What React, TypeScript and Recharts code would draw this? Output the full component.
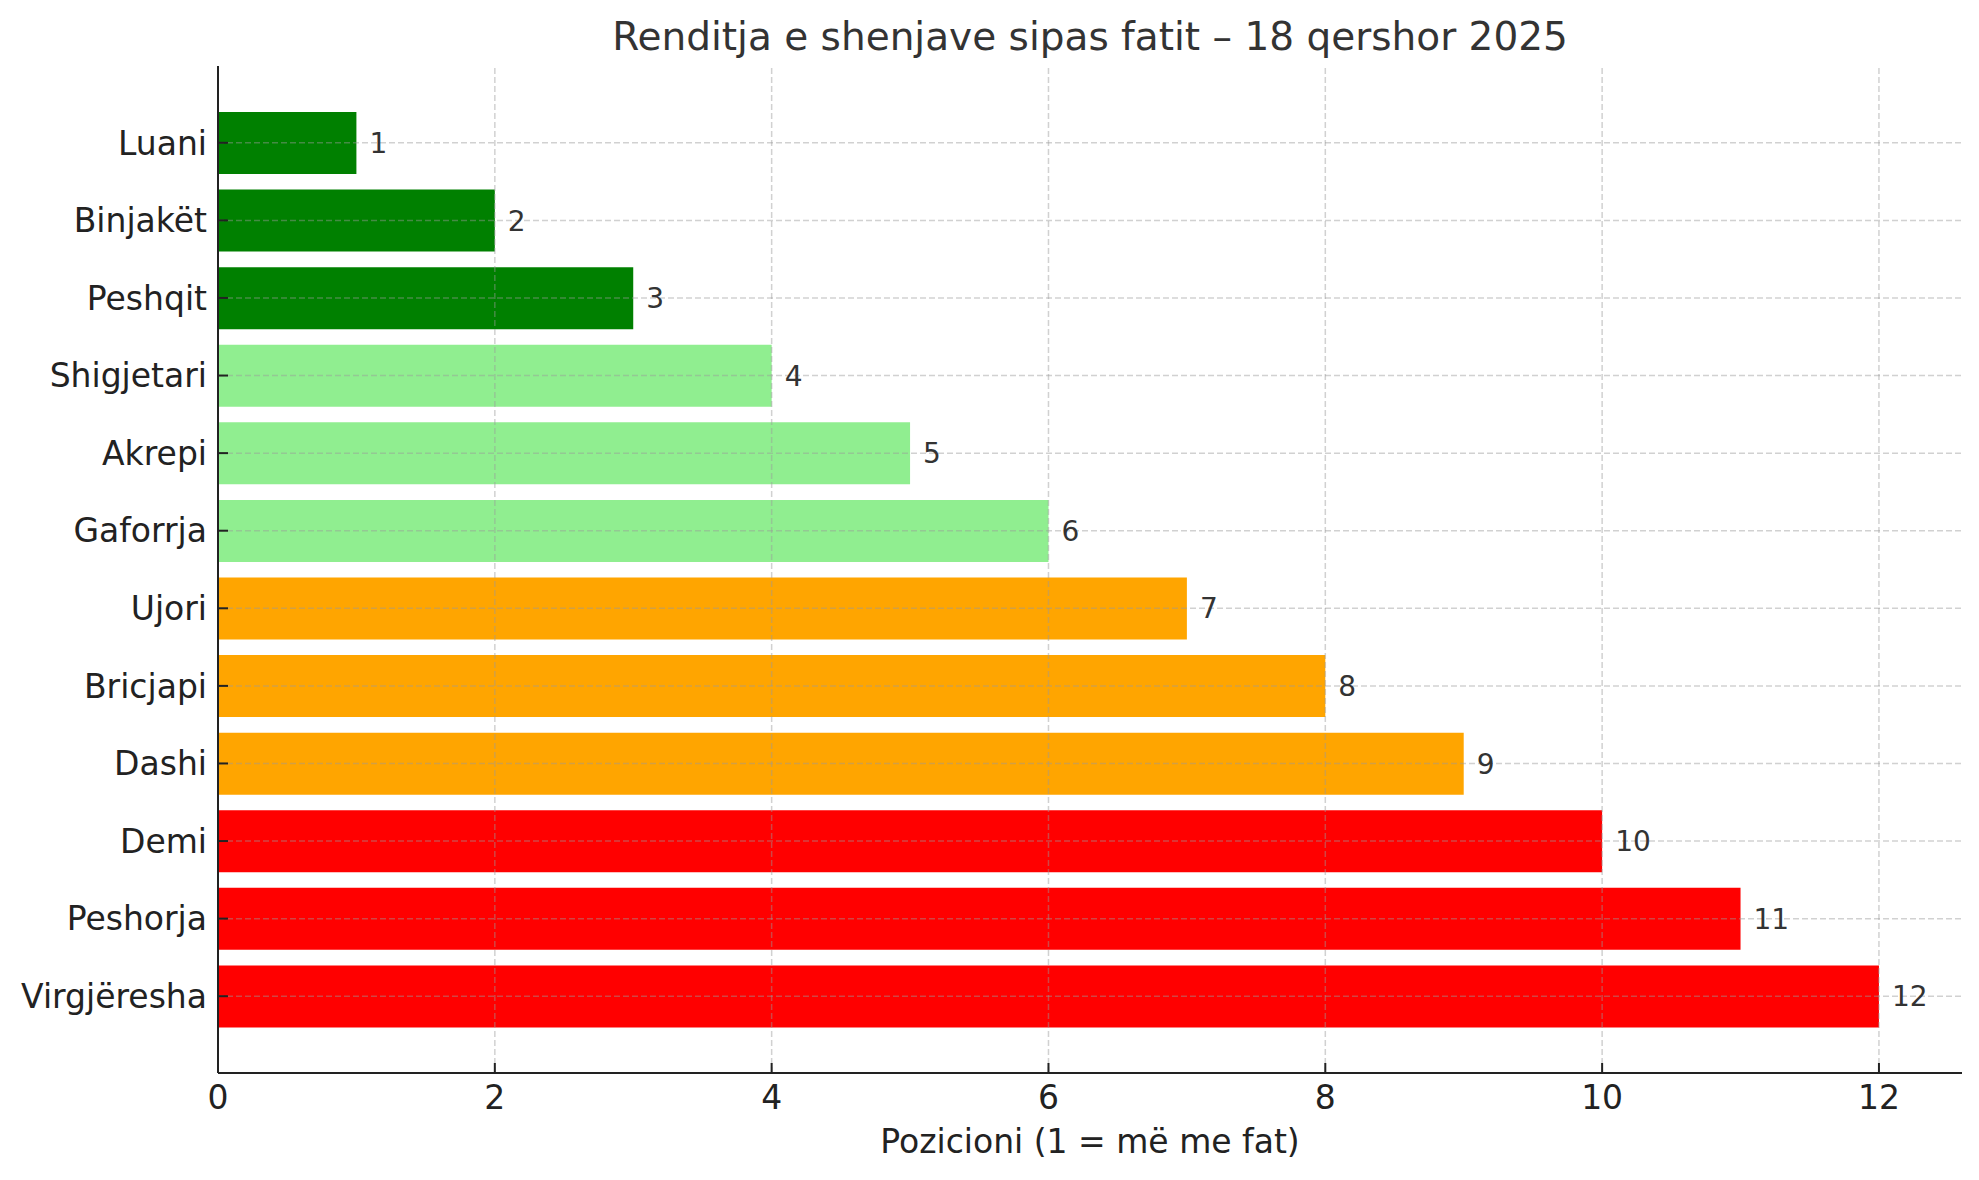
import { BarChart, Bar, XAxis, YAxis, ReferenceLine, Cell, LabelList } from 'recharts'

const signs = ['Luani', 'Binjakët', 'Peshqit', 'Shigjetari', 'Akrepi', 'Gaforrja', 'Ujori', 'Bricjapi', 'Dashi', 'Demi', 'Peshorja', 'Virgjëresha']
const positions = [1, 2, 3, 4, 5, 6, 7, 8, 9, 10, 11, 12]
const barColors = ['#008000', '#008000', '#008000', '#90ee90', '#90ee90', '#90ee90', '#ffa500', '#ffa500', '#ffa500', '#ff0000', '#ff0000', '#ff0000']
const xTicks = [0, 2, 4, 6, 8, 10, 12]

const title = 'Renditja e shenjave sipas fatit – 18 qershor 2025'
const xLabel = 'Pozicioni (1 = më me fat)'

const data = signs.map((name, i) => ({ name, pos: positions[i] }))

const font = '"DejaVu Sans", sans-serif'
const gridStyle = { stroke: '#999', strokeOpacity: 0.45, strokeWidth: 1.5, strokeDasharray: '6 3' }

export default function App() {
    return (
        <div style={{ position: 'absolute', left: 0, top: 0, width: 1979, height: 1180, background: '#fff', fontFamily: font }}>
            <svg width={1979} height={80} style={{ position: 'absolute', left: 0, top: 0 }}>
                <text x={1090} y={50} textAnchor="middle" fontSize={39} fill="#333" fontFamily={font}>{title}</text>
            </svg>
            <BarChart
                width={1979}
                height={1180}
                data={data}
                layout="vertical"
                margin={{ top: 66, right: 17, left: 0, bottom: 0 }}
                barSize={62}
            >
                <XAxis
                    type="number"
                    dataKey="pos"
                    domain={[0, 12.6]}
                    ticks={xTicks}
                    height={107}
                    tickSize={-10}
                    tickMargin={23}
                    stroke="#222"
                    strokeWidth={2}
                    tick={{ fill: '#222', fontSize: 33, fontFamily: font }}
                    label={{ value: xLabel, position: 'insideBottom', offset: 27, fill: '#222', fontSize: 33, fontFamily: font }}
                />
                <YAxis
                    type="category"
                    dataKey="name"
                    width={218}
                    padding={{ top: 38, bottom: 38 }}
                    tickSize={-10}
                    tickMargin={21}
                    stroke="#222"
                    strokeWidth={2}
                    tick={{ fill: '#222', fontSize: 33, fontFamily: font }}
                    interval={0}
                />
                <Bar dataKey="pos" isAnimationActive={false}>
                    {data.map((d, i) => (
                        <Cell key={d.name} fill={barColors[i]} />
                    ))}
                    <LabelList dataKey="pos" position="right" offset={13} fill="#333" fontSize={28} fontFamily={font} />
                </Bar>
                {xTicks.filter(t => t > 0).map(t => (
                    <ReferenceLine key={'x' + t} x={t} {...gridStyle} />
                ))}
                {signs.map(s => (
                    <ReferenceLine key={'y' + s} y={s} {...gridStyle} />
                ))}
            </BarChart>
        </div>
    )
}
